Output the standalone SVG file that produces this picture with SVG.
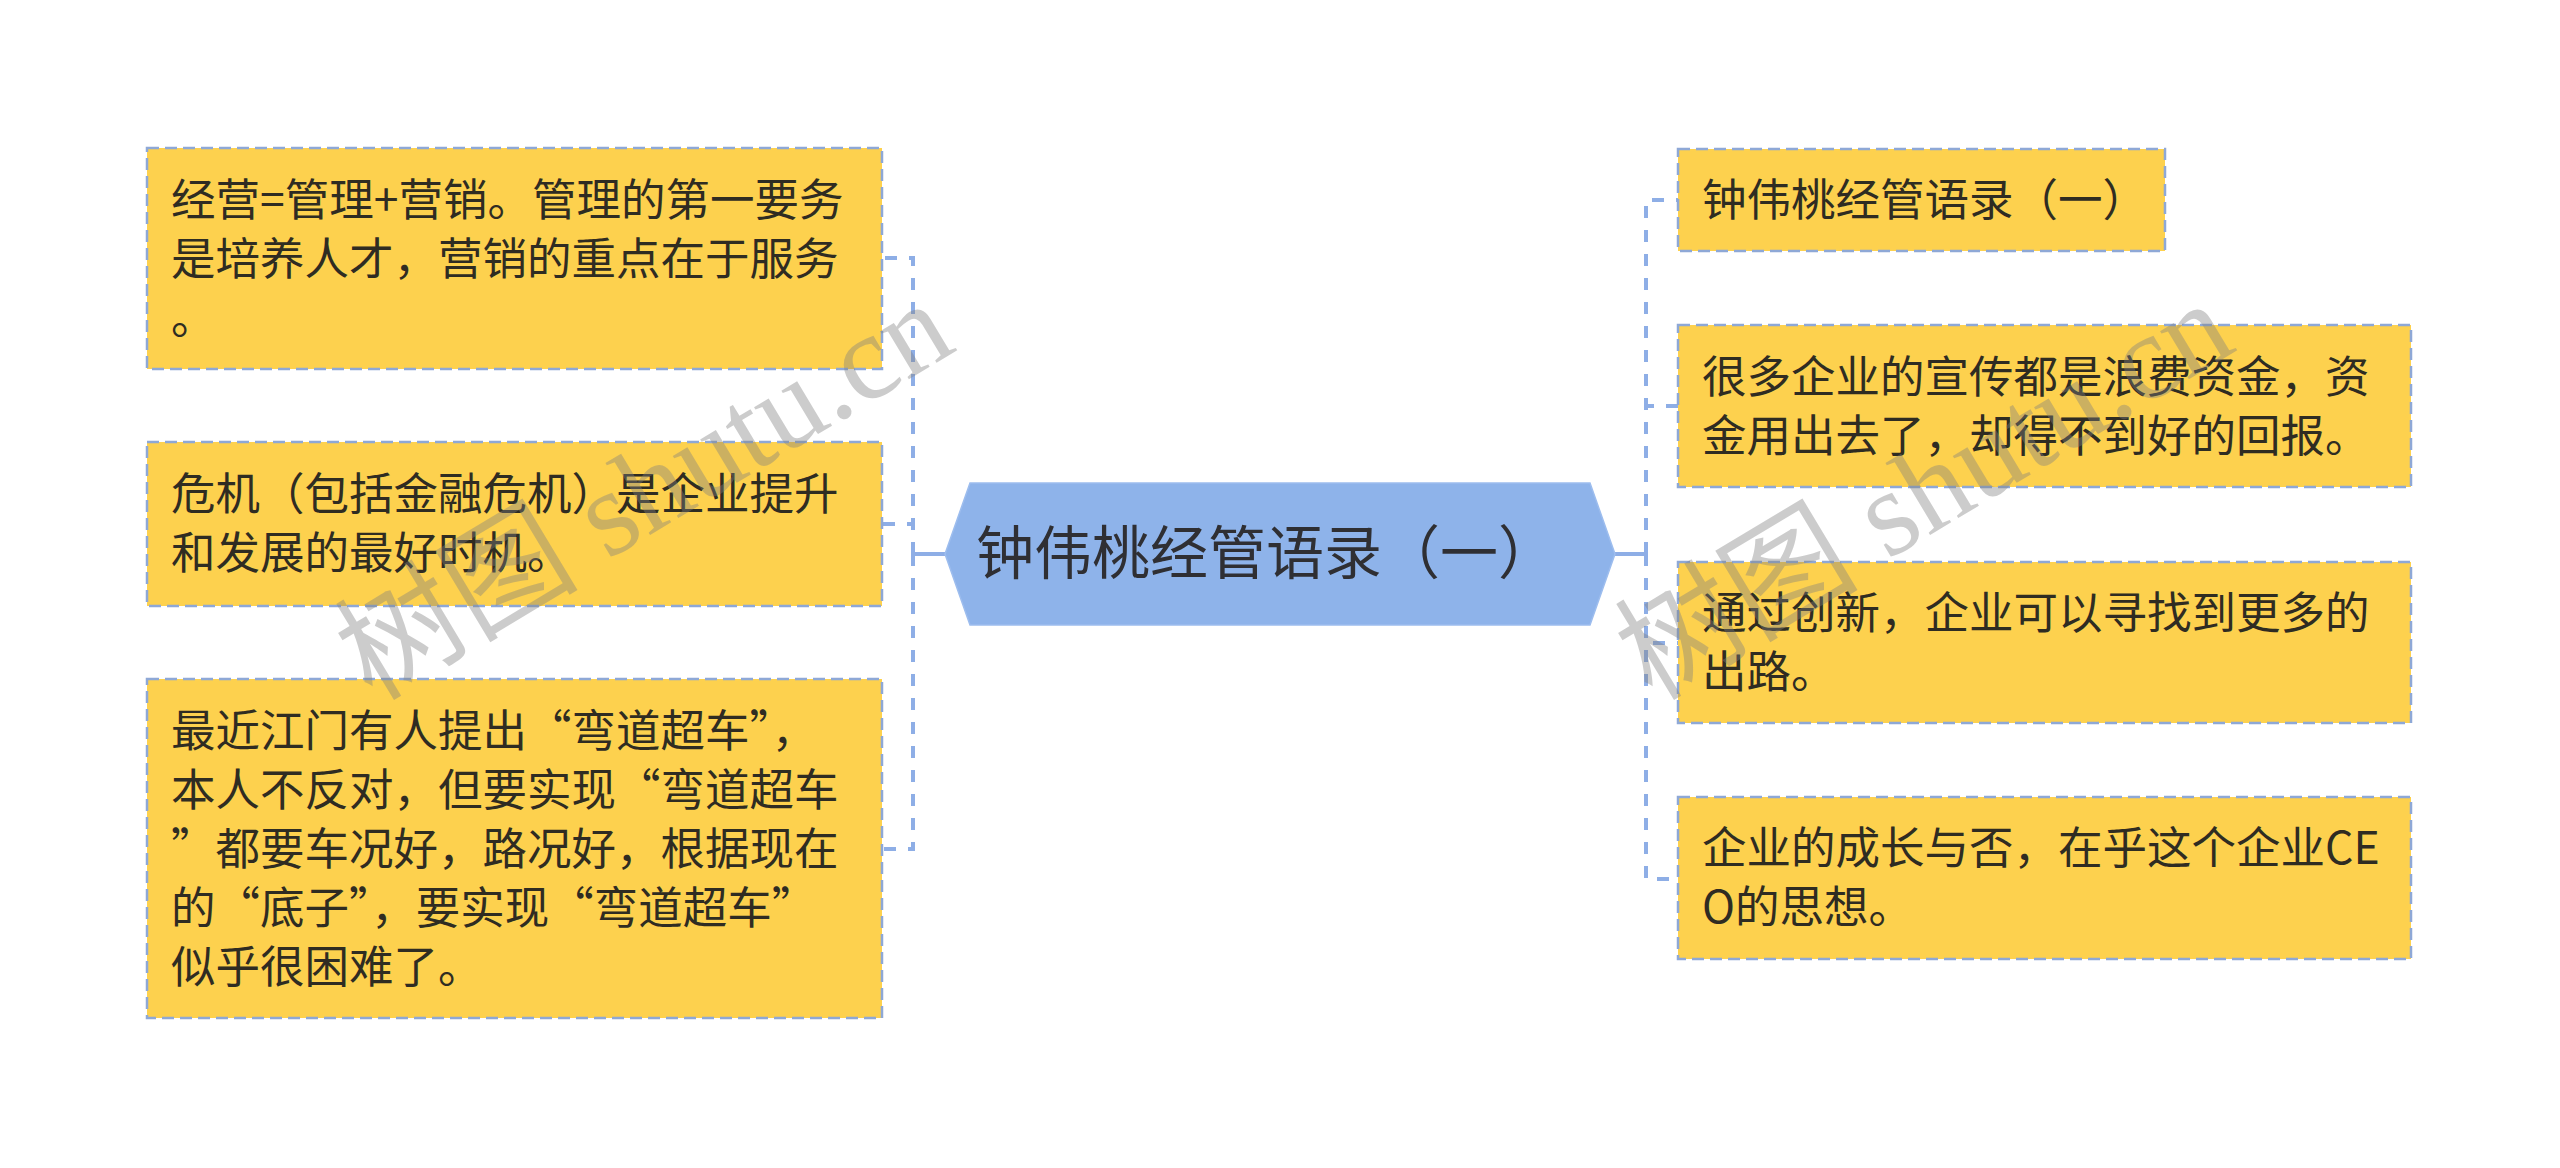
<svg xmlns="http://www.w3.org/2000/svg" width="2560" height="1168" viewBox="0 0 2560 1168">
<style>
.box{fill:#FDD14E;stroke:#8EA8D6;stroke-width:2.5;stroke-dasharray:12 6}
.hex{fill:#8EB3EA;stroke:#9DBDEE;stroke-width:1.5}
.t{font-family:"Noto Sans CJK SC","Noto Sans",sans-serif;font-size:44.5px;fill:#2f2c22}
.ct{font-family:"Noto Sans CJK SC","Noto Sans",sans-serif;font-size:58px;fill:#2f2f33}
.conn{fill:none;stroke:#8EAEE6;stroke-width:4;stroke-dasharray:12 12}
.solid{fill:none;stroke:#8EAEE6;stroke-width:4}
.wm{font-family:"Liberation Serif","Noto Sans CJK SC",serif;font-size:122px;fill:#7f7f7f;fill-opacity:0.4}
</style>
<rect width="2560" height="1168" fill="#ffffff"/>
<g id="connectors">
<line class="solid" x1="945" y1="554" x2="913" y2="554"/>
<path class="conn" d="M913 554 V258 H882"/>
<path class="conn" d="M913 554 V524 H882"/>
<path class="conn" d="M913 554 V849 H882"/>
<line class="solid" x1="1615" y1="554" x2="1646" y2="554"/>
<path class="conn" d="M1646 554 V200 H1678"/>
<path class="conn" d="M1646 554 V406 H1678"/>
<path class="conn" d="M1646 554 V643 H1678"/>
<path class="conn" d="M1646 554 V879 H1678"/>
</g>
<g id="center">
<polygon class="hex" points="945,554 970,483 1590,483 1615,554 1590,625 970,625"/>
<text class="ct" x="976" y="574" lang="zh-CN">钟伟桃经管语录（一）</text>
</g>
<g id="node-l1">
<rect class="box" x="147" y="148" width="735" height="221"/>
<text class="t" lang="zh-CN"><tspan x="171" y="215.5">经营=管理+营销。管理的第一要务</tspan><tspan x="171" y="274.5">是培养人才，营销的重点在于服务</tspan><tspan x="171" y="333.5">。</tspan></text>
</g>
<g id="node-l2">
<rect class="box" x="147" y="442" width="735" height="164"/>
<text class="t" lang="zh-CN"><tspan x="171" y="509.5">危机（包括金融危机）是企业提升</tspan><tspan x="171" y="568.5">和发展的最好时机。</tspan></text>
</g>
<g id="node-l3">
<rect class="box" x="147" y="679" width="735" height="339"/>
<text class="t" lang="zh-CN"><tspan x="171" y="746.5">最近江门有人提出“弯道超车”，</tspan><tspan x="171" y="805.5">本人不反对，但要实现“弯道超车</tspan><tspan x="171" y="864.5">”都要车况好，路况好，根据现在</tspan><tspan x="171" y="923.5">的“底子”，要实现“弯道超车”</tspan><tspan x="171" y="982.5">似乎很困难了。</tspan></text>
</g>
<g id="node-r1">
<rect class="box" x="1678" y="149" width="487" height="102"/>
<text class="t" x="1702" y="216" lang="zh-CN">钟伟桃经管语录（一）</text>
</g>
<g id="node-r2">
<rect class="box" x="1678" y="325" width="733" height="162"/>
<text class="t" lang="zh-CN"><tspan x="1702" y="392.5">很多企业的宣传都是浪费资金，资</tspan><tspan x="1702" y="451.5">金用出去了，却得不到好的回报。</tspan></text>
</g>
<g id="node-r3">
<rect class="box" x="1678" y="562" width="733" height="161"/>
<text class="t" lang="zh-CN"><tspan x="1702" y="629">通过创新，企业可以寻找到更多的</tspan><tspan x="1702" y="688">出路。</tspan></text>
</g>
<g id="node-r4">
<rect class="box" x="1678" y="797" width="733" height="162"/>
<text class="t" lang="zh-CN"><tspan x="1702" y="864">企业的成长与否，在乎这个企业CE</tspan><tspan x="1702" y="923">O的思想。</tspan></text>
</g>
<g id="watermarks">
<text class="wm" transform="translate(372 702) rotate(-31)">树图 shutu.cn</text>
<text class="wm" transform="translate(1652 702) rotate(-31)">树图 shutu.cn</text>
</g>
</svg>
